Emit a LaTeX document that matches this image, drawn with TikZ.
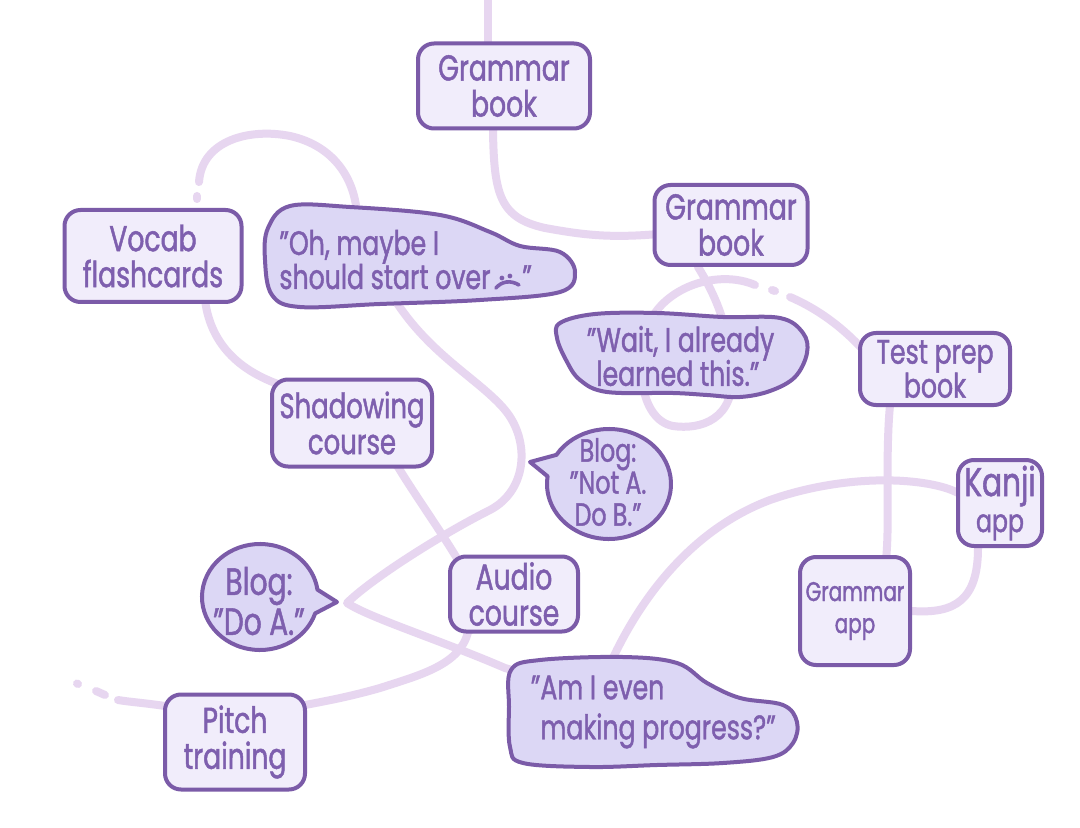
\documentclass[tikz,border=0pt]{standalone}
\usepackage{fontspec}
\setmainfont{Poppins}[FakeStretch=0.74, FakeBold=1.3]
\definecolor{ink}{HTML}{7B5BA8}
\definecolor{inktext}{HTML}{7E5FAE}
\definecolor{boxfill}{HTML}{F1EDFB}
\definecolor{bubfill}{HTML}{DCD7F5}
\definecolor{wirec}{HTML}{E7D6F0}
\newcommand\tightlines{\lineskiplimit=-20pt\relax}
\newcommand\fsz[2]{\fontsize{#1}{#2}\selectfont\tightlines}
\pgfdeclarelayer{bg}
\pgfsetlayers{bg,main}
\tikzset{
  box/.style={draw=ink, line width=2pt, fill=boxfill, rounded corners=8pt, inner sep=0pt, align=center, text=inktext, font=\fsz{18}{18}},
  wire/.style={draw=wirec, line width=4pt, line cap=round, line join=round},
  bub/.style={draw=ink, line width=2pt, fill=bubfill, line join=round},
  btext/.style={text=inktext, inner sep=0pt, font=\fsz{17}{17}},
}
\begin{document}
\begin{tikzpicture}[x=0.5pt,y=-0.5pt]
\useasboundingbox (0,0) rectangle (1080,828);
\begin{pgfonlayer}{bg}
\fill[white] (0,0) rectangle (1080,828);
\end{pgfonlayer}

% boxes
\node[box, minimum width=86pt, minimum height=42.5pt] (g1) at (504,86) {Grammar\\book};
\node[box, minimum width=76.5pt, minimum height=40pt] (g2) at (731,225) {Grammar\\book};
\node[box, minimum width=88.5pt, minimum height=46pt] (vocab) at (153,256) {Vocab\\flashcards};
\node[box, minimum width=75pt, minimum height=36pt, font=\fsz{17}{17}] (test) at (935,369) {Test prep\\book};
\node[box, minimum width=80pt, minimum height=43.5pt, font=\fsz{17.5}{18}] (shadow) at (352,423) {Shadowing\\course};
\node[box, minimum width=42pt, minimum height=43pt] (kanji) at (1000,503) {{\fsz{20}{18}Kanji}\\{\fsz{16}{15}app}};
\node[box, minimum width=55pt, minimum height=54pt, font=\fsz{13.5}{16}] (gapp) at (855,611) {Grammar\\app};
\node[box, minimum width=64pt, minimum height=37.5pt] (audio) at (514,594) {Audio\\course};
\node[box, minimum width=70pt, minimum height=47.5pt] (pitch) at (235,742) {Pitch\\training};

% bubble: Oh maybe
\draw[bub] plot[smooth cycle, tension=0.6] coordinates {(268,228) (290,206) (350,207) (440,215) (490,232) (520,246) (560,252) (575,272) (560,292) (480,300) (380,304) (300,307) (272,295) (265,260)};
\coordinate (om) at (410,258);
\node[btext, anchor=base west] (om1) at (279,255) {"Oh, maybe I};
\node[btext, anchor=base west] (om2) at (279,289) {should start over};
\begin{scope}[shift={(om2.base east)}]
  \fill[inktext] (11,-11) circle (2.4);
  \fill[inktext] (19,-13) circle (2.4);
  \draw[inktext, line width=1.8pt, line cap=round] (5,-1) .. controls (11,-8) and (20,-9) .. (28,-4);
  \node[btext, anchor=base west] (omq) at (31,0) {"};
\end{scope}

% bubble: Wait
\draw[bub] plot[smooth cycle, tension=0.6] coordinates {(560,323) (595,314) (657,313) (723,317) (780,318) (803,333) (807,353) (795,377) (770,391) (740,397) (707,395) (673,393) (607,392) (580,380) (566,360) (557,338)};
\node[btext, anchor=west, align=left] (wait) at (596,356) {\llap{"}Wait, I already\\learned this."};

% bubble: Am I even
\draw[bub] plot[smooth cycle, tension=0.6] coordinates {(511,670) (540,660) (623,657) (677,663) (707,683) (740,698) (783,705) (797,722) (793,743) (773,757) (723,763) (657,765) (590,767) (523,763) (510,747) (509,707)};
\node[btext, anchor=west, align=left, font=\fsz{17}{20}] (ame) at (540,712) {\llap{"}Am I even\\making progress?"};

% blog B
\draw[bub] (609,484) ++(212:62 and 55) arc[start angle=212, end angle=548, x radius=62, y radius=55] -- (530,462) -- cycle;
\node[btext, align=center, font=\fsz{16}{16}] (blogb) at (608,482) {Blog:\\"Not A.\\Do B."};

% blog A
\draw[bub] (260,597) ++(18:58 and 53) arc[start angle=18, end angle=352, x radius=58, y radius=53] -- (337,602) -- cycle;
\node[btext, align=center, font=\fsz{19}{20}] (bloga) at (259,601) {Blog:\\"Do A."};

% connectors
\begin{pgfonlayer}{bg}
\coordinate (topend) at (488,-6);
\draw[wire] (topend) -- (topend |- g1.center);
\draw[wire] (g1.center) -- ++(-11,45) .. controls (494,195) and (500,218) .. (545,228) .. controls (600,238) and (630,240) .. (g2.center);
\draw[wire] (g2.center) -- ++(-33,42) .. controls (712,290) and (728,320) .. (732,370) .. controls (736,420) and (700,430) .. (673,426) .. controls (640,420) and (632,360) .. (653,316) .. controls (672,285) and (720,270) .. (755,285);
\coordinate (dotA) at (772,290);
\draw[wire] (dotA) -- ++(3,1);
\coordinate (resumeA) at (790,297);
\draw[wire] (resumeA) .. controls (825,312) and (850,335) .. (865,352) -- (test.center);
\draw[wire] (test.center) -- ++(-45,36) .. controls (885,460) and (890,520) .. (886,560) -- (gapp.center);
\draw[wire] (gapp.east) .. controls (955,614) and (978,600) .. (978,548) -- (kanji.center);
\draw[wire] (kanji.center) -- (958,493) .. controls (930,478) and (850,472) .. (770,500) .. controls (690,530) and (640,600) .. (612,660) -- (ame.center);
\draw[wire] (om) -- (395,300) .. controls (430,355) and (480,380) .. (505,410) .. controls (530,440) and (528,490) .. (490,510) .. controls (440,535) and (370,580) .. (347,603) .. controls (370,618) and (440,640) .. (505,668) -- (ame.center);
\draw[wire] (shadow.center) -- (398,467) .. controls (415,495) and (440,530) .. (458,560) -- (audio.center);
\draw[wire] (audio.center) -- (468,632) .. controls (460,665) and (420,675) .. (380,688) .. controls (345,698) and (320,702) .. (300,706) -- (pitch.center);
\coordinate (dashB) at (105,695);
\coordinate (dotB) at (78,684);
\draw[wire] (pitch.center) -- (165,706) .. controls (145,703) and (130,702) .. (118,700);
\draw[wire] (dashB) -- ++(-9,-4);
\draw[wire] (dotB) -- ++(-1,-0.5);
\draw[wire] (vocab.center) -- (205,300) .. controls (210,340) and (235,372) .. (290,388) -- (shadow.center);
\coordinate (dotC) at (197,199);
\draw[wire] (dotC) -- ++(0,-3);
\coordinate (arcC) at (199,182);
\draw[wire] (arcC) .. controls (202,140) and (250,128) .. (290,136) .. controls (335,146) and (355,180) .. (357,215) -- (om);
\end{pgfonlayer}
\end{tikzpicture}
\end{document}
